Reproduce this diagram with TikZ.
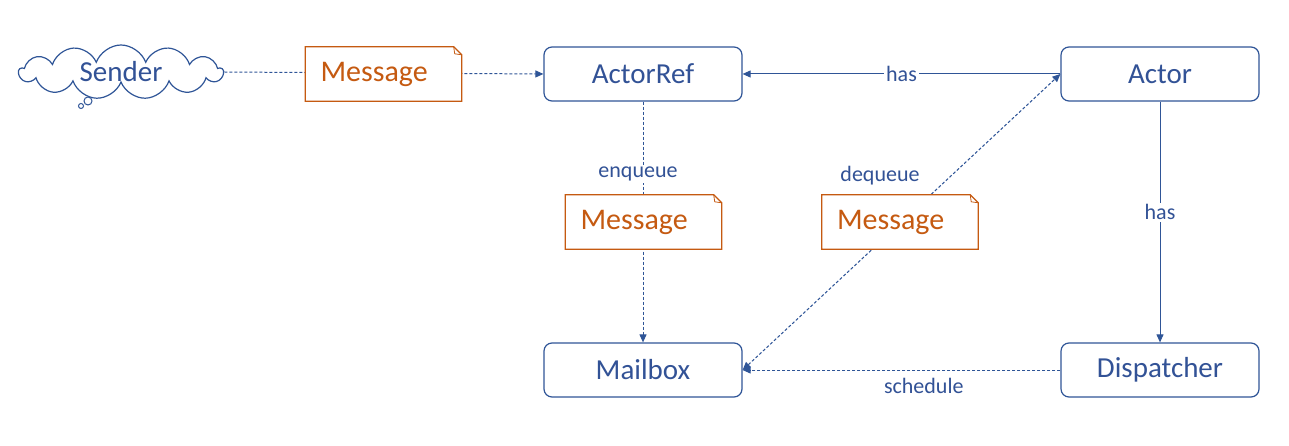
\documentclass[tikz,border=0pt]{standalone}
\usepackage{fontspec}
\setmainfont{Carlito}
\usetikzlibrary{shapes.symbols,arrows.meta,backgrounds}
\definecolor{BoxBlue}{RGB}{47,85,151}
\definecolor{TextBlue}{RGB}{50,82,150}
\definecolor{NoteOrange}{RGB}{197,90,17}
\tikzset
{
  BoxNodeStyle/.style =
  {
    shape = rectangle,
    rounded corners = 8pt,
    draw = BoxBlue,
    line width = 1.2pt,
    minimum width = 198pt,
    minimum height = 54pt,
    text = TextBlue,
    font = \fontsize{29}{32}\selectfont,
  },
  CloudNodeStyle/.style =
  {
    shape = cloud,
    cloud ignores aspect,
    cloud puffs = 13,
    cloud puff arc = 140,
    draw = BoxBlue,
    line width = 1.2pt,
    inner sep = 1pt,
    minimum width = 204pt,
    minimum height = 54pt,
    text = TextBlue,
    font = \fontsize{29}{32}\selectfont,
  },
  NoteNodeStyle/.style =
  {
    shape = rectangle,
    fill = white,
    inner xsep = 15pt,
    text width = 126pt,
    align = left,
    minimum height = 54pt,
    text = NoteOrange,
    font = \fontsize{30}{32}\selectfont,
  },
  NoteEdgeStyle/.style =
  {
    draw = NoteOrange,
    line width = 1.2pt,
  },
  LabelNodeStyle/.style =
  {
    fill = white,
    inner sep = 2pt,
    text = TextBlue,
    font = \fontsize{22}{24}\selectfont,
  },
  LinkStyle/.style =
  {
    draw = BoxBlue,
    line width = 1pt,
    -{Triangle[length=8pt,width=7pt]},
  },
  DashedLinkStyle/.style =
  {
    LinkStyle,
    dash pattern = on 3pt off 2pt,
  },
}

\begin{document}
\begin{tikzpicture}[x=1pt, y=-1pt]
  \useasboundingbox (0,0) rectangle (1289,446);

  % actors and mailbox
  \node[CloudNodeStyle] (sender) at (121,72) {Sender};
  \draw[BoxBlue, line width=1pt] (88,101) circle (4pt) (81,106) circle (2.5pt);
  \node[BoxNodeStyle] (actorref) at (643,74) {ActorRef};
  \node[BoxNodeStyle] (actor) at (1160,74) {Actor};
  \node[BoxNodeStyle] (mailbox) at (643,370) {Mailbox};
  \node[BoxNodeStyle] (dispatcher) at (1160,370) {Dispatcher};

  % messages
  \node[NoteNodeStyle] (msgsend) at (383.5,74) {Message};
  \node[NoteNodeStyle] (msgenq) at (643.5,222) {Message};
  \node[NoteNodeStyle] (msgdeq) at (900,222) {Message};
  \foreach \n in {msgsend,msgenq,msgdeq}
  {
    \draw[NoteEdgeStyle] (\n.north west) -- ([xshift=-8pt]\n.north east)
      -- ([yshift=-8pt]\n.north east) -- (\n.south east) -- (\n.south west) -- cycle;
    \draw[NoteEdgeStyle, line width=0.8pt] ([xshift=-8pt]\n.north east)
      -- ([xshift=-7pt,yshift=-7pt]\n.north east) -- ([yshift=-8pt]\n.north east);
  }

  % labels
  \node[LabelNodeStyle] (enqlabel) at (638,174) {enqueue};
  \node[LabelNodeStyle] (deqlabel) at (880,176) {dequeue};

  \begin{scope}[on background layer]
    \draw[DashedLinkStyle] (sender.east) -- (actorref.west);
    \draw[LinkStyle] (actor.west) -- node[LabelNodeStyle] {has} (actorref.east);
    \draw[DashedLinkStyle] (actorref.south) -- (mailbox.north);
    \draw[DashedLinkStyle, {Triangle[length=8pt,width=7pt]}-{Triangle[length=8pt,width=7pt]}]
      (mailbox.east) -- (actor.west);
    \draw[LinkStyle] (actor.south) -- node[LabelNodeStyle, pos=0.46] {has} (dispatcher.north);
    \draw[DashedLinkStyle] (dispatcher.west) -- node[LabelNodeStyle, below=6pt, pos=0.43] {schedule} (mailbox.east);
  \end{scope}
\end{tikzpicture}
\end{document}
